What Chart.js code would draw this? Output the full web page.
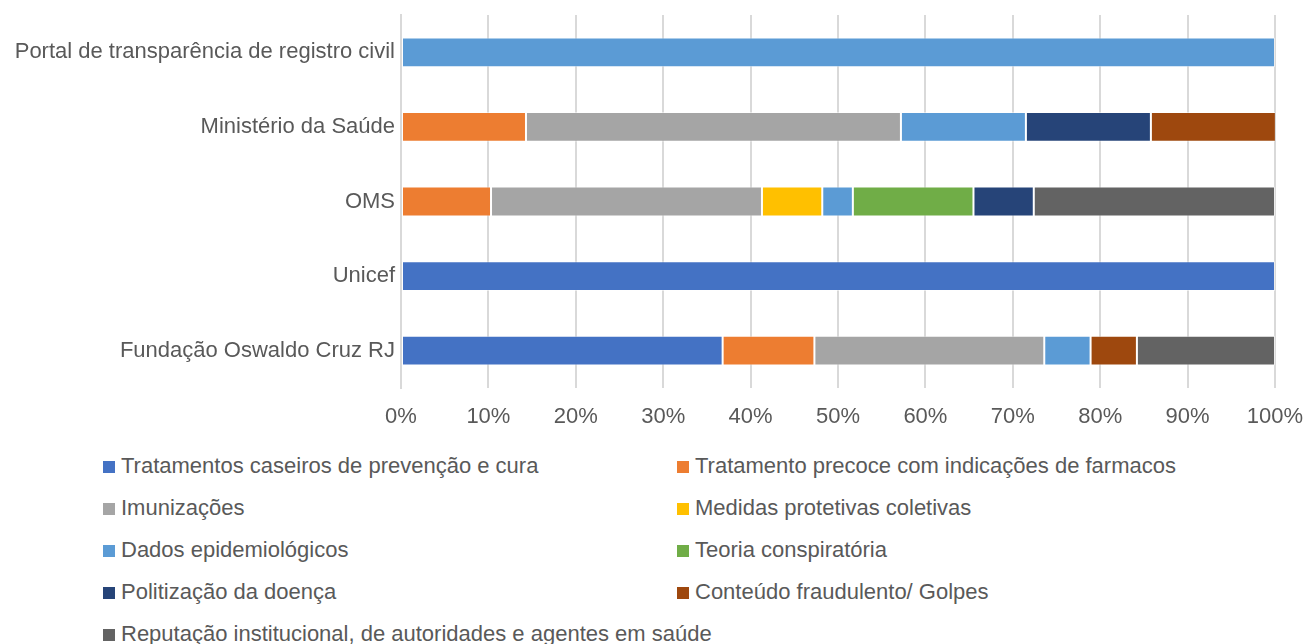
<!DOCTYPE html>
<html>
<head>
<meta charset="utf-8">
<script src="https://cdn.jsdelivr.net/npm/chart.js@4"></script>
<style>
  html, body { margin: 0; padding: 0; background: #fff; overflow: hidden; }
  body { width: 1308px; height: 644px; font-family: "Liberation Sans", Arial, sans-serif; }
  #wrap { position: relative; width: 1308px; height: 440px; }
  #legend { position: relative; margin-top: 5px; height: 210px; }
  .item { position: absolute; height: 42px; line-height: 42px; font-size: 22px; color: #595959; white-space: nowrap; }
  .item span.box { display: inline-block; width: 12px; height: 12px; margin-right: 6px; vertical-align: 0px; }
</style>
</head>
<body>
<div id="wrap"><canvas id="chart"></canvas></div>
<div id="legend"></div>
<script>
var categories = ["Portal de transparência de registro civil", "Ministério da Saúde", "OMS", "Unicef", "Fundação Oswaldo Cruz RJ"];

var seriesNames = [
    "Tratamentos caseiros de prevenção e cura",
    "Tratamento precoce com indicações de farmacos",
    "Imunizações",
    "Medidas protetivas coletivas",
    "Dados epidemiológicos",
    "Teoria conspiratória",
    "Politização da doença",
    "Conteúdo fraudulento/ Golpes",
    "Reputação institucional, de autoridades e agentes em saúde"
];

var seriesColors = ["#4472C4", "#ED7D31", "#A5A5A5", "#FFC000", "#5B9BD5", "#70AD47", "#264478", "#9E480E", "#636363"];

// percent share per category (Portal, Ministério, OMS, Unicef, Fundação)
var caseiros     = [0,   0,    0,    100, 36.8];
var precoce      = [0,   14.3, 10.3, 0,   10.5];
var imunizacoes  = [0,   42.9, 31.0, 0,   26.3];
var medidas      = [0,   0,    6.9,  0,   0];
var dados        = [100, 14.3, 3.5,  0,   5.3];
var teoria       = [0,   0,    13.8, 0,   0];
var politizacao  = [0,   14.3, 6.9,  0,   0];
var fraudulento  = [0,   14.3, 0,    0,   5.3];
var reputacao    = [0,   0,    27.6, 0,   15.8];

var xTicks = [0, 10, 20, 30, 40, 50, 60, 70, 80, 90, 100];

var allValues = [caseiros, precoce, imunizacoes, medidas, dados, teoria, politizacao, fraudulento, reputacao];

var datasets = allValues.map(function (vals, i) {
    return {
        label: seriesNames[i],
        data: vals,
        backgroundColor: seriesColors[i],
        borderColor: "rgba(255,255,255,0.5)",
        borderWidth: 1,
        borderSkipped: false,
        barPercentage: 0.4,
        categoryPercentage: 1
    };
});

var ctx = document.getElementById("chart");
new Chart(ctx, {
    type: "bar",
    data: { labels: categories, datasets: datasets },
    options: {
        indexAxis: "y",
        responsive: true,
        maintainAspectRatio: false,
        animation: false,
        layout: { padding: { top: 15, right: 33, left: 0, bottom: 0 } },
        plugins: { legend: { display: false }, tooltip: { enabled: false } },
        scales: {
            x: {
                stacked: true,
                min: 0,
                max: 100,
                afterBuildTicks: function (s) { s.ticks = xTicks.map(function (v) { return { value: v }; }); },
                afterFit: function (s) { s.height = 52; s.paddingLeft = 0; s.paddingRight = 0; },
                grid: { color: "#d9d9d9", lineWidth: 2, drawTicks: false },
                border: { display: false },
                ticks: {
                    color: "#595959",
                    font: { size: 22, family: "'Liberation Sans', Arial, sans-serif" },
                    padding: 16,
                    callback: function (v) { return v + "%"; }
                }
            },
            y: {
                stacked: true,
                afterFit: function (s) { s.width = 401; s.paddingTop = 0; s.paddingBottom = 0; },
                grid: { display: false, drawTicks: false },
                border: { display: true, color: "#d9d9d9", width: 2 },
                ticks: {
                    color: "#595959",
                    font: { size: 22, family: "'Liberation Sans', Arial, sans-serif" },
                    padding: 6
                }
            }
        }
    }
});

// legend in two columns, like the original
var legend = document.getElementById("legend");
seriesNames.forEach(function (name, i) {
    var el = document.createElement("div");
    el.className = "item";
    el.style.left = (i % 2 === 0 ? 103 : 677) + "px";
    el.style.top = (Math.floor(i / 2) * 42) + "px";
    el.innerHTML = '<span class="box" style="background:' + seriesColors[i] + '"></span>' + name;
    legend.appendChild(el);
});
</script>
</body>
</html>
